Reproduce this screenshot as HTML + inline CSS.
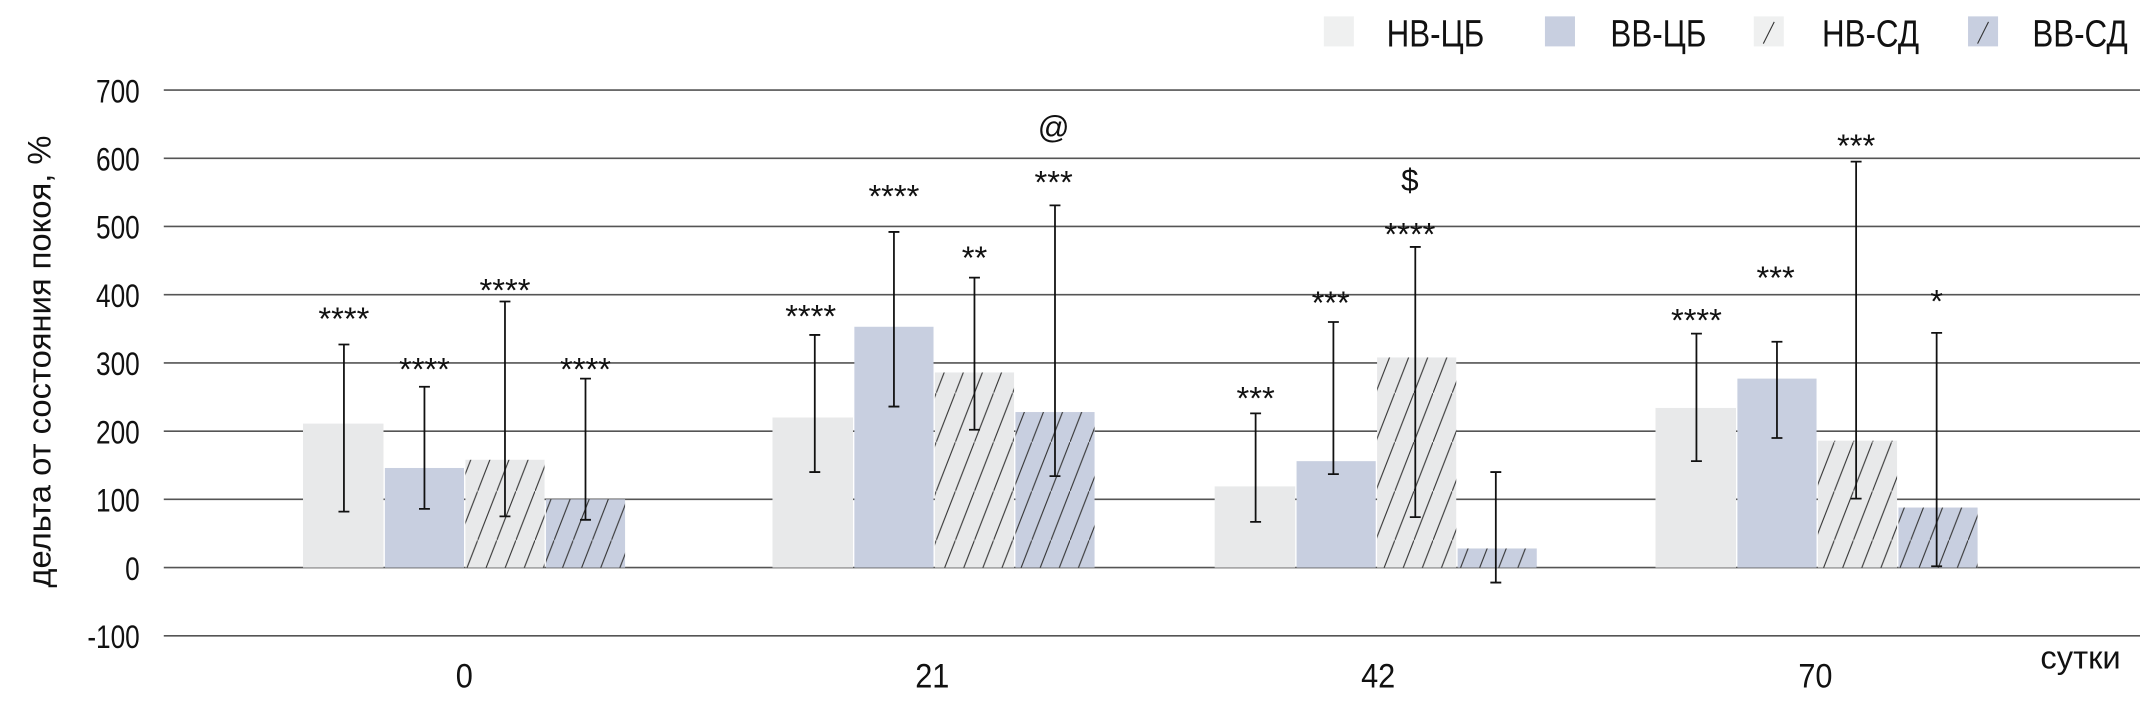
<!DOCTYPE html>
<html><head><meta charset="utf-8"><style>
html,body{margin:0;padding:0;background:#fff;width:2140px;height:704px;overflow:hidden}
svg{display:block}
text{font-family:"Liberation Sans Narrow","Liberation Sans",sans-serif;fill:#111}
</style></head><body>
<svg width="2140" height="704" viewBox="0 0 1568 516" preserveAspectRatio="none">
<defs>
<pattern id="hl" patternUnits="userSpaceOnUse" width="14" height="36">
<rect width="14" height="36" fill="#e8e9ea"/>
<line x1="0" y1="36" x2="14" y2="0" stroke="#333" stroke-width="0.8"/>
</pattern>
<pattern id="hb" patternUnits="userSpaceOnUse" width="14" height="36">
<rect width="14" height="36" fill="#c8cfe0"/>
<line x1="0" y1="36" x2="14" y2="0" stroke="#333" stroke-width="0.8"/>
</pattern>
</defs>
<g stroke="#555" stroke-width="1.2">
<line x1="120" x2="1568" y1="66" y2="66"/><line x1="120" x2="1568" y1="116" y2="116"/>
<line x1="120" x2="1568" y1="166" y2="166"/><line x1="120" x2="1568" y1="216" y2="216"/>
<line x1="120" x2="1568" y1="266" y2="266"/><line x1="120" x2="1568" y1="316" y2="316"/>
<line x1="120" x2="1568" y1="366" y2="366"/><line x1="120" x2="1568" y1="416" y2="416"/>
<line x1="120" x2="1568" y1="466" y2="466"/>
</g>
<g font-size="24" text-anchor="end" transform="scale(0.8,1)">
<text x="128" y="75">700</text><text x="128" y="125">600</text><text x="128" y="175">500</text>
<text x="128" y="225">400</text><text x="128" y="275">300</text><text x="128" y="325">200</text>
<text x="128" y="375">100</text><text x="128" y="425">0</text><text x="128" y="475">-100</text>
</g>
<text transform="translate(37,265) rotate(-90)" font-size="24" text-anchor="middle" style="font-family:'Liberation Sans',sans-serif">дельта от состояния покоя, %</text>
<g>
<rect x="222" y="310.5" width="59" height="105.5" fill="#e8e9ea"/>
<rect x="282" y="343" width="58" height="73" fill="#c8cfe0"/>
<rect x="341" y="337" width="58" height="79" fill="url(#hl)"/>
<rect x="400" y="366" width="58" height="50" fill="url(#hb)"/>
<rect x="566" y="306" width="59" height="110" fill="#e8e9ea"/>
<rect x="626" y="239.5" width="58" height="176.5" fill="#c8cfe0"/>
<rect x="685" y="273" width="58" height="143" fill="url(#hl)"/>
<rect x="744" y="302" width="58" height="114" fill="url(#hb)"/>
<rect x="890" y="356.5" width="59" height="59.5" fill="#e8e9ea"/>
<rect x="950" y="338" width="58" height="78" fill="#c8cfe0"/>
<rect x="1009" y="262" width="58" height="154" fill="url(#hl)"/>
<rect x="1068" y="402" width="58" height="14" fill="url(#hb)"/>
<rect x="1213" y="299" width="59" height="117" fill="#e8e9ea"/>
<rect x="1273" y="277.5" width="58" height="138.5" fill="#c8cfe0"/>
<rect x="1332" y="323" width="58" height="93" fill="url(#hl)"/>
<rect x="1391" y="372" width="58" height="44" fill="url(#hb)"/>
</g>
<g stroke="#111" stroke-width="1.3">
<path d="M252 252.5V375M248 252.5h8M248 375h8"/>
<path d="M311 283.5V373M307 283.5h8M307 373h8"/>
<path d="M370 221V378.5M366 221h8M366 378.5h8"/>
<path d="M429 277.5V381M425 277.5h8M425 381h8"/>
<path d="M597 245.5V346M593 245.5h8M593 346h8"/>
<path d="M655 170V298M651 170h8M651 298h8"/>
<path d="M714 203.5V315M710 203.5h8M710 315h8"/>
<path d="M773 150.5V349M769 150.5h8M769 349h8"/>
<path d="M920 303V382.5M916 303h8M916 382.5h8"/>
<path d="M977 236V347.5M973 236h8M973 347.5h8"/>
<path d="M1037 181V379M1033 181h8M1033 379h8"/>
<path d="M1096 346V427M1092 346h8M1092 427h8"/>
<path d="M1243 244.5V338M1239 244.5h8M1239 338h8"/>
<path d="M1302 250.5V321M1298 250.5h8M1298 321h8"/>
<path d="M1360 118.5V365.5M1356 118.5h8M1356 365.5h8"/>
<path d="M1419 244V415M1415 244h8M1415 415h8"/>
</g>
<g font-size="24" text-anchor="middle" style="font-family:'Liberation Sans',sans-serif">
<text x="252" y="242">****</text><text x="311" y="279">****</text><text x="370" y="221">****</text><text x="429" y="279">****</text>
<text x="594" y="240">****</text><text x="655" y="152">****</text><text x="714" y="197">**</text><text x="772" y="142">***</text>
<text x="920" y="300">***</text><text x="975" y="230">***</text><text x="1033" y="180">****</text>
<text x="1243" y="243">****</text><text x="1301" y="212">***</text><text x="1360" y="115">***</text><text x="1419" y="229">*</text>
</g>
<g font-size="23" text-anchor="middle" style="font-family:'Liberation Sans',sans-serif">
<text x="772" y="101">@</text><text x="1033" y="140">$</text>
</g>
<g font-size="25" text-anchor="middle" transform="scale(0.9,1)">
<text x="378" y="504">0</text><text x="759" y="504">21</text><text x="1122" y="504">42</text><text x="1478" y="504">70</text>
</g>
<text x="1495" y="490" font-size="24" style="font-family:'Liberation Sans',sans-serif">сутки</text>
<rect x="970" y="12" width="22" height="22" fill="#eff0f0"/>
<rect x="1132" y="12" width="22" height="22" fill="#c8cfe0"/>
<rect x="1285" y="12" width="22" height="22" fill="#eff0f0"/><line x1="1292" y1="32" x2="1300" y2="16" stroke="#333" stroke-width="0.8"/>
<rect x="1442" y="12" width="22" height="22" fill="#c8cfe0"/><line x1="1449" y1="32" x2="1457" y2="16" stroke="#333" stroke-width="0.8"/>
<g font-size="28" transform="scale(0.82,1)">
<text x="1239" y="34">НВ-ЦБ</text><text x="1439" y="34">ВВ-ЦБ</text><text x="1628" y="34">НВ-СД</text><text x="1816" y="34">ВВ-СД</text>
</g>
</svg>
</body></html>
